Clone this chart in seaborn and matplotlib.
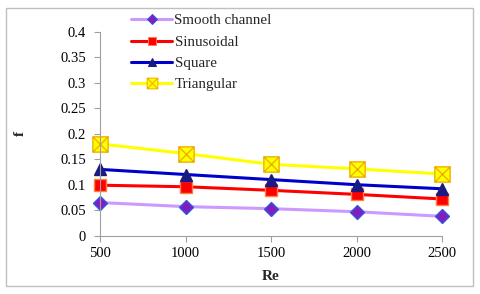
import numpy as np
import pandas as pd
import matplotlib
matplotlib.use("Agg")
import matplotlib.pyplot as plt
from matplotlib.path import Path
import seaborn as sns

re_vals = [500, 1000, 1500, 2000, 2500]
smooth = [0.065, 0.057, 0.053, 0.047, 0.038]
sinusoidal = [0.099, 0.096, 0.089, 0.081, 0.072]
square = [0.130, 0.120, 0.110, 0.100, 0.092]
triangular = [0.180, 0.161, 0.140, 0.131, 0.121]
series_names = ["Smooth channel", "Sinusoidal", "Square", "Triangular"]
y_ticks = [0, 0.05, 0.1, 0.15, 0.2, 0.25, 0.3, 0.35, 0.4]
y_tick_labels = ["0", "0.05", "0.1", "0.15", "0.2", "0.25", "0.3", "0.35", "0.4"]

df = pd.DataFrame({
    "Re": re_vals * 4,
    "f": smooth + sinusoidal + square + triangular,
    "series": sum([[n] * len(re_vals) for n in series_names], []),
})

sns.set_theme(style="white")
plt.rcParams['font.family'] = ['Liberation Serif', 'DejaVu Serif']

fig = plt.figure(figsize=(4.8, 2.94), dpi=100)
ax = fig.add_axes([100/480, 1 - 235.7/294, (442-100)/480, (235.7-31.7)/294])

# frame around the figure
fig.patches.append(plt.Rectangle((6/480, 8/294), 467/480, 278/294, transform=fig.transFigure,
                                 fill=False, edgecolor="#BFBFBF", linewidth=1.0))

xbox = Path([(-1, -1), (1, -1), (1, 1), (-1, 1), (-1, -1), (-1, -1), (1, 1), (-1, 1), (1, -1)],
            [Path.MOVETO, Path.LINETO, Path.LINETO, Path.LINETO, Path.CLOSEPOLY,
             Path.MOVETO, Path.LINETO, Path.MOVETO, Path.LINETO])

palette = {"Smooth channel": "#CC99FF", "Sinusoidal": "#FF0000",
           "Square": "#0000CC", "Triangular": "#FFFF00"}
markers = {"Smooth channel": "D", "Sinusoidal": "s", "Square": "^", "Triangular": xbox}

sns.lineplot(data=df, x="Re", y="f", hue="series", style="series", palette=palette,
             markers=markers, dashes=False, linewidth=2.2, ax=ax, legend=True)

face = {"Smooth channel": "#7F1FBF", "Sinusoidal": "#FF0000", "Square": "#1A1A80", "Triangular": "#FFFF00"}
edge = {"Smooth channel": "#3355DD", "Sinusoidal": "#FF8040", "Square": "#1A1A80", "Triangular": "#F0B000"}
size = {"Smooth channel": 7, "Sinusoidal": 9, "Square": 9, "Triangular": 11}
for line, name in zip(ax.lines, series_names):
    line.set_markerfacecolor(face[name])
    line.set_markeredgecolor(edge[name])
    line.set_markersize(size[name])
    line.set_markeredgewidth(1.0)
    line.set_clip_on(False)

ax.set_xlim(500, 2500)
ax.set_ylim(0, 0.4)
ax.set_xticks(re_vals)
ax.set_xticklabels([str(v) for v in re_vals])
ax.set_yticks(y_ticks)
ax.set_yticklabels(y_tick_labels)
ax.tick_params(axis="both", labelsize=10.5, colors="black", length=4, width=0.8,
               direction="out", left=True, bottom=True)
ax.tick_params(axis="y", pad=6)
ax.tick_params(axis="x", pad=4)
ax.tick_params(axis="both", color="#A0A0A0")
for s in ["top", "right"]:
    ax.spines[s].set_visible(False)
for s in ["left", "bottom"]:
    ax.spines[s].set_color("#A0A0A0")
    ax.spines[s].set_linewidth(0.8)
ax.grid(False)

ax.set_xlabel("Re", fontsize=11, fontweight="bold", labelpad=7)
ax.set_ylabel("f", fontsize=11, fontweight="bold", labelpad=24)

handles, labels = ax.get_legend_handles_labels()
for h, name in zip(handles, labels):
    h.set_markerfacecolor(face[name])
    h.set_markeredgecolor(edge[name])
    h.set_markersize(size[name] * 0.7)
ax.legend(handles, labels, loc="upper left", bbox_to_anchor=(131/480, 1 - 14/294),
          bbox_transform=fig.transFigure, frameon=False, fontsize=10.8,
          handlelength=2.75, handletextpad=0.15, labelspacing=0.52,
          borderpad=0, borderaxespad=0)

fig.savefig("out.png", dpi=100)
